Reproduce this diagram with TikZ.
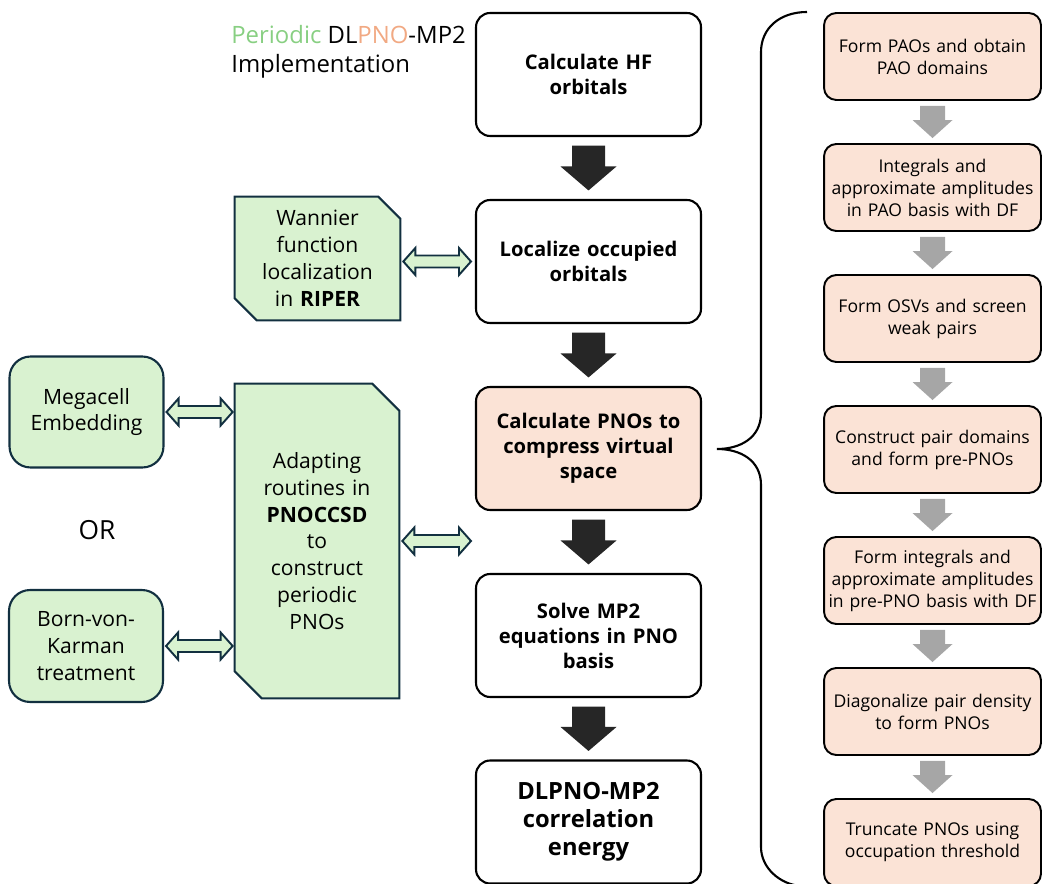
\documentclass[tikz,border=0pt]{standalone}
\usepackage{fontspec}
\setmainfont{Open Sans}
\usetikzlibrary{calc,backgrounds}
\definecolor{greenfill}{HTML}{D9F2D0}
\definecolor{peachfill}{HTML}{FBE3D6}
\definecolor{darkline}{HTML}{123040}
\definecolor{blkarrow}{HTML}{262626}
\definecolor{grayarrow}{HTML}{A6A6A6}
\definecolor{titlegreen}{HTML}{88CF82}
\definecolor{titlepeach}{HTML}{F1A983}
\newcommand\blockdown[7]{%
  \fill[#1] ($(#2.south)+(-#4,#7)$) -- ($(#2.south)+(#4,#7)$)
    -- ($(#3.north)+(#4,-#7-#6)$) -- ($(#3.north)+(#5,-#7-#6)$)
    -- ($(#3.north)+(0,-#7)$) -- ($(#3.north)+(-#5,-#7-#6)$)
    -- ($(#3.north)+(-#4,-#7-#6)$) -- cycle;}
\newcommand\dblarrow[2]{%
  \filldraw[dblarr] (#1) -- ++(12,-13.5) -- ++(0,7.5) -- ($(#2)+(-12,-6)$)
    -- ++(0,-7.5) -- (#2) -- ++(-12,13.5) -- ++(0,-7.5)
    -- ($(#1)+(12,6)$) -- ++(0,7.5) -- cycle;}
\newcommand\chamfer[2]{%
  \filldraw[fill=greenfill, draw=darkline, line width=1.2pt, line join=miter]
    (#1.north west) -- ($(#1.north east)+(-#2,0)$) -- ($(#1.north east)+(0,#2)$)
    -- (#1.south east) -- ($(#1.south west)+(#2,0)$) -- ($(#1.south west)+(0,-#2)$) -- cycle;}
\begin{document}
\begin{tikzpicture}[x=0.02cm,y=-0.02cm,
  mainbox/.style={draw=black, line width=1.2pt, rounded corners=8pt, fill=white,
    minimum width=4.5cm, minimum height=2.46cm, text width=4.2cm, align=center,
    font=\fontsize{11.5}{14.2}\selectfont\bfseries, inner sep=0pt},
  stepbox/.style={draw=black, line width=1.1pt, rounded corners=7pt, fill=peachfill,
    minimum width=4.34cm, minimum height=1.74cm, text width=4.2cm, align=center,
    font=\fontsize{10}{12.5}\selectfont, inner sep=0pt},
  sidebox/.style={draw=darkline, line width=1.2pt, rounded corners=12pt, fill=greenfill,
    minimum width=3.08cm, minimum height=2.22cm, text width=2.9cm, align=center,
    font=\fontsize{12}{15.3}\selectfont, inner sep=0pt},
  chambox/.style={minimum width=3.3cm, text width=3.0cm, align=center,
    font=\fontsize{12}{15.3}\selectfont, inner sep=0pt},
  blk/.style={fill=blkarrow},
  gry/.style={fill=grayarrow},
  dblarr/.style={fill=greenfill, draw=darkline, line width=1.1pt, line join=miter},
  brace/.style={draw=black, line width=1.2pt}
]
\useasboundingbox (0,0) rectangle (1043,884);

% title
\node[anchor=west, align=left, font=\fontsize{13.6}{16.5}\selectfont, inner sep=0pt] (title) at (231,51.5)
  {\textcolor{titlegreen}{Periodic} DL\textcolor{titlepeach}{PNO}-MP2\\Implementation};

% center column
\node[mainbox] (c1) at (588.5,74.5) {Calculate HF\\orbitals};
\node[mainbox] (c2) at (588.5,261.5) {Localize occupied\\orbitals};
\node[mainbox, fill=peachfill] (c3) at (588.5,448.5) {Calculate PNOs to\\compress virtual\\space};
\node[mainbox] (c4) at (588.5,635.5) {Solve MP2\\equations in PNO\\basis};
\node[mainbox, font=\fontsize{13.5}{16}\selectfont\bfseries] (c5) at (588.5,822)
  {\raisebox{-0.08cm}{\parbox{4.2cm}{\centering DLPNO-MP2\\correlation\\energy}}};

\blockdown{blk}{c1}{c2}{16.5}{28}{24}{8.5}
\blockdown{blk}{c2}{c3}{16.5}{28}{24}{8.5}
\blockdown{blk}{c3}{c4}{16.5}{28}{24}{8.5}
\blockdown{blk}{c4}{c5}{16.5}{28}{24}{8.5}

% right column
\node[stepbox] (r1) at (932.5,56.5) {Form PAOs and obtain\\PAO domains};
\node[stepbox] (r2) at (932.5,187.5) {Integrals and\\approximate amplitudes\\in PAO basis with DF};
\node[stepbox] (r3) at (932.5,318.5) {Form OSVs and screen\\weak pairs};
\node[stepbox] (r4) at (932.5,449.5) {Construct pair domains\\and form pre-PNOs};
\node[stepbox] (r5) at (932.5,580.5) {Form integrals and\\approximate amplitudes\\in pre-PNO basis with DF};
\node[stepbox] (r6) at (932.5,711.5) {Diagonalize pair density\\to form PNOs};
\node[stepbox] (r7) at (932.5,842.5) {Truncate PNOs using\\occupation threshold};

\blockdown{gry}{r1}{r2}{12.5}{20}{18}{5}
\blockdown{gry}{r2}{r3}{12.5}{20}{18}{5}
\blockdown{gry}{r3}{r4}{12.5}{20}{18}{5}
\blockdown{gry}{r4}{r5}{12.5}{20}{18}{5}
\blockdown{gry}{r5}{r6}{12.5}{20}{18}{5}
\blockdown{gry}{r6}{r7}{12.5}{20}{18}{5}

% brace
\draw[brace] (807,12) .. controls (780,12) and (761,28) .. (761,52) -- (761,413)
  .. controls (761,438) and (740,449) .. (717,449)
  .. controls (740,449) and (761,460) .. (761,485) -- (761,847)
  .. controls (761,868) and (780,884) .. (800,886);

% left green
\node[chambox, minimum height=2.46cm] (w) at (317.5,258.5) {Wannier\\function\\localization\\in \textbf{RIPER}};
\node[chambox, minimum width=3.28cm, minimum height=6.28cm] (a) at (317,541) {Adapting\\routines in\\\textbf{PNOCCSD}\\to\\construct\\periodic\\PNOs};
\begin{scope}[on background layer]
  \chamfer{w}{22}
  \chamfer{a}{27}
\end{scope}

\node[sidebox] (m) at (86.5,412) {Megacell\\Embedding};
\node[sidebox, minimum height=2.24cm] (b) at (86,646) {Born-von-\\Karman\\treatment};
\node[font=\fontsize{15}{17}\selectfont] (or) at (97,530) {OR};

\dblarrow{$(w.east |- c2.west)+(3,0)$}{$(c2.west)+(-4,0)$}
\dblarrow{$(m.east)+(2,0)$}{$(m.east -| a.west)+(-2,0)$}
\dblarrow{$(b.east)+(2,0)$}{$(b.east -| a.west)+(-2,0)$}
\dblarrow{$(a.east)+(3,0)$}{$(a.east -| c3.west)+(-4,0)$}
\end{tikzpicture}
\end{document}
